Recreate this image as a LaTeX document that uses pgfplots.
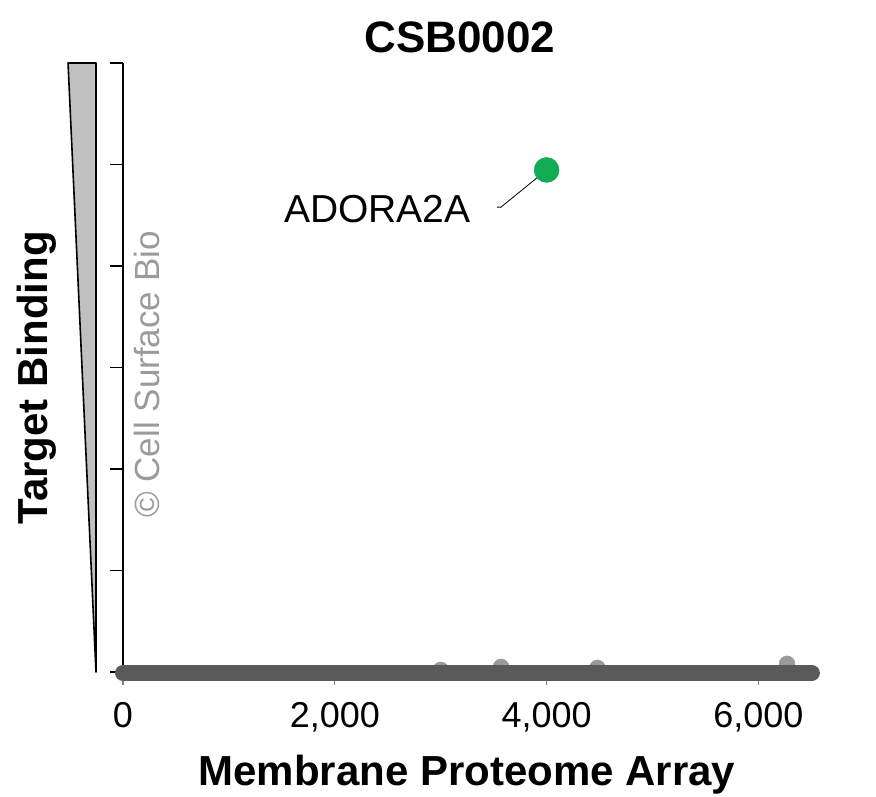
\documentclass[border=0pt]{standalone}
\usepackage{pgfplots}
\pgfplotsset{compat=1.18}
\usepackage{fontspec}
\setmainfont{Liberation Sans}
\definecolor{bandgray}{HTML}{5A5A5A}
\definecolor{bumpgray}{HTML}{9A9A9A}
\definecolor{wedgegray}{HTML}{C0C0C0}
\definecolor{ptgreen}{HTML}{12AA52}
\definecolor{copygray}{HTML}{9B9B9B}
\begin{document}
\begin{tikzpicture}[x=1pt,y=1pt]
\begin{axis}[
  at={(123pt,125pt)}, anchor=south west,
  scale only axis, width=699pt, height=609pt,
  xmin=0, xmax=6600, ymin=0, ymax=6,
  clip=false, clip marker paths=true,
  axis x line*=bottom, axis y line*=left,
  x axis line style={draw=none},
  y axis line style={line width=1.6pt, black},
  xtick={0,2000,4000,6000}, xticklabels={0,{2,000},{4,000},{6,000}},
  ytick={0,1,2,3,4,5,6}, yticklabels={},
  tick align=outside, major tick length=13pt,
  xtick style={color=gray, line width=1.2pt},
  ytick style={color=black, line width=1.6pt},
  /pgf/number format/assume math mode=true,
  tick label style={font=\fontsize{36}{40}\selectfont},
  xticklabel style={anchor=base, yshift=-43pt},
  title={CSB0002},
  title style={font=\bfseries\fontsize{44}{50}\selectfont, at={(axis description cs:0.482,1.008)}, anchor=base},
  xlabel={Membrane Proteome Array},
  xlabel style={font=\bfseries\fontsize{42}{48}\selectfont, at={(axis description cs:0.492,-0.1856)}, anchor=base},
  ylabel={Target Binding},
  ylabel style={font=\bfseries\fontsize{42}{48}\selectfont, at={(axis description cs:-0.1087,0.483)}, anchor=base},
]
% wedge
\addplot[draw=black, line width=1.6pt, line join=round, fill=wedgegray] coordinates {(-519,6) (-255,6) (-255,0.0)} -- cycle;
% faint elevated points
\addplot[only marks, mark=*, mark size=8pt, color=bumpgray] coordinates {(3570,0.05) (4480,0.04) (6270,0.08) (3000,0.02)};
% band of unbound proteins
\addplot[bandgray, line width=16pt, line cap=round] coordinates {(0,-0.01) (6505,-0.01)};
% leader line
\addplot[black, line width=0.8pt] coordinates {(3531,4.58) (3569,4.58) (4000,4.946)};
% hit
\addplot[only marks, mark=*, mark size=12.5pt, color=ptgreen] coordinates {(4000,4.946)};
\node[anchor=base west, inner sep=0pt, font=\fontsize{39}{44}\selectfont] at (axis cs:1520,4.433) {ADORA2A};
\node[rotate=90, anchor=base west, inner sep=0pt, text=copygray, font=\fontsize{35}{40}\selectfont] at (axis cs:340,1.517) {© Cell Surface Bio};
\end{axis}
\pgfresetboundingbox
\path[use as bounding box] (0,0) rectangle (876,797);
\end{tikzpicture}
\end{document}
